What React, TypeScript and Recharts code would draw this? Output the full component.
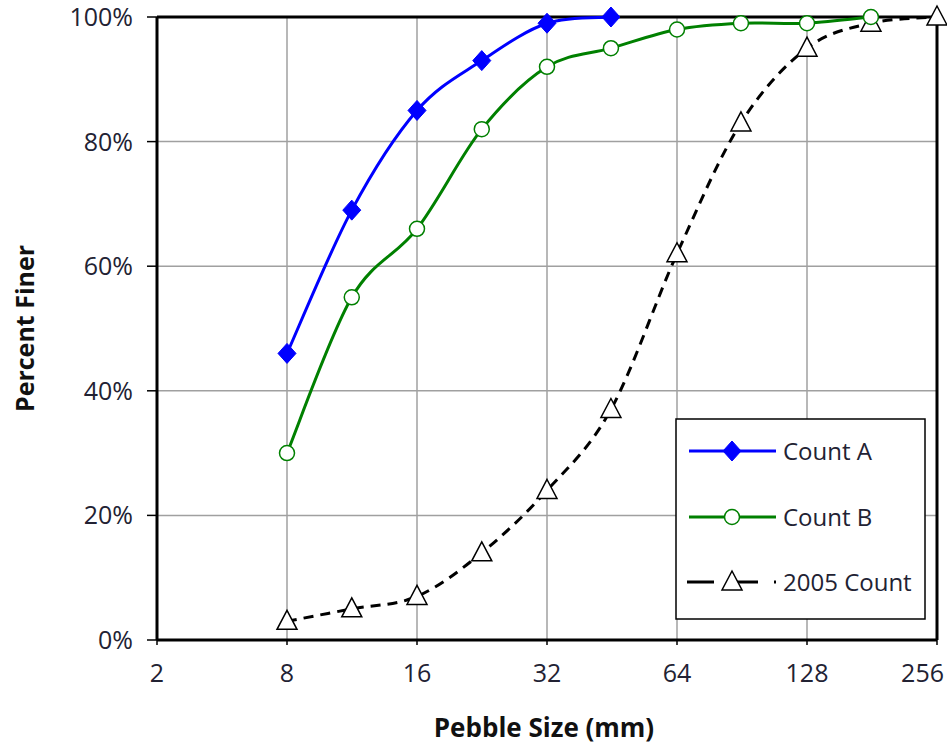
import React from 'react';
import { LineChart, Line, XAxis, YAxis, CartesianGrid, ReferenceLine, Legend } from 'recharts';

const sizes = [8, 11.3, 16, 22.6, 32, 45, 64, 90, 128, 180, 256];
const countA: (number | null)[] = [46, 69, 85, 93, 99, 100, null, null, null, null, null];
const countB: (number | null)[] = [30, 55, 66, 82, 92, 95, 98, 99, 99, 100, null];
const count2005: (number | null)[] = [3, 5, 7, 14, 24, 37, 62, 83, 95, 99, 100];
const xTicks = [4, 8, 16, 32, 64, 128, 256];
const xTickLabels = ['2', '8', '16', '32', '64', '128', '256'];
const yTicks = [0, 20, 40, 60, 80, 100];
const seriesNames = ['Count A', 'Count B', '2005 Count'];

const data = sizes.map((s, i) => ({ size: s, a: countA[i], b: countB[i], c: count2005[i] }));

const FONT = '"Open Sans", "Noto Sans", sans-serif';
const TEXT = '#222233';
const BLUE = '#0000FF';
const GREEN = '#008000';

// Catmull-Rom style smoothing (similar to spreadsheet "smoothed line")
const smoothCurve = (context: any) => {
  let pts: number[][] = [];
  return {
    areaStart() {},
    areaEnd() {},
    lineStart() { pts = []; },
    point(x: number, y: number) { pts.push([+x, +y]); },
    lineEnd() {
      if (!pts.length) return;
      context.moveTo(pts[0][0], pts[0][1]);
      for (let i = 0; i < pts.length - 1; i++) {
        const p0 = pts[i - 1] || pts[i];
        const p1 = pts[i];
        const p2 = pts[i + 1];
        const p3 = pts[i + 2] || p2;
        const c1x = p1[0] + (p2[0] - p0[0]) / 6;
        const c1y = p1[1] + (p2[1] - p0[1]) / 6;
        const c2x = p2[0] - (p3[0] - p1[0]) / 6;
        const c2y = p2[1] - (p3[1] - p1[1]) / 6;
        context.bezierCurveTo(c1x, c1y, c2x, c2y, p2[0], p2[1]);
      }
    },
  };
};

const diamondPts = (cx: number, cy: number) =>
  `${cx},${cy - 10} ${cx + 9},${cy} ${cx},${cy + 10} ${cx - 9},${cy}`;
const trianglePts = (cx: number, cy: number) =>
  `${cx},${cy - 11} ${cx + 10},${cy + 8} ${cx - 10},${cy + 8}`;

const DiamondDot = (p: any) => {
  const { cx, cy, index } = p;
  if (cx == null || cy == null || p.value == null) return <g key={`a${index}`} />;
  return <polygon key={`a${index}`} points={diamondPts(cx, cy)} fill={BLUE} stroke={BLUE} strokeWidth={1} />;
};
const CircleDot = (p: any) => {
  const { cx, cy, index } = p;
  if (cx == null || cy == null || p.value == null) return <g key={`b${index}`} />;
  return <circle key={`b${index}`} cx={cx} cy={cy} r={7.5} fill="#fff" stroke={GREEN} strokeWidth={1.5} />;
};
const TriangleDot = (p: any) => {
  const { cx, cy, index } = p;
  if (cx == null || cy == null || p.value == null) return <g key={`c${index}`} />;
  return <polygon key={`c${index}`} points={trianglePts(cx, cy)} fill="#fff" stroke="#000" strokeWidth={1.5} />;
};

const XTick = (p: any) => {
  const { x, y, payload } = p;
  const i = xTicks.indexOf(payload.value);
  const last = i === xTicks.length - 1;
  return (
    <text x={last ? x + 7 : x} y={y + 37} textAnchor={last ? 'end' : 'middle'} fontFamily={FONT} fontSize={25} fill={TEXT}>
      {i >= 0 ? xTickLabels[i] : payload.value}
    </text>
  );
};
const YTick = (p: any) => {
  const { x, y, payload } = p;
  return (
    <text x={x - 14} y={y + 9} textAnchor="end" fontFamily={FONT} fontSize={25} fill={TEXT}>
      {`${payload.value}%`}
    </text>
  );
};

const YTitle = (p: any) => {
  const vb = p.viewBox || { x: 0, y: 17, width: 157, height: 623 };
  const cx = vb.x + 24;
  const cy = vb.y + vb.height / 2;
  return (
    <text x={cx} y={cy} transform={`rotate(-90, ${cx}, ${cy})`} textAnchor="middle" dominantBaseline="central"
      fontFamily={FONT} fontSize={25} fontWeight="bold" fill="#111">
      Percent Finer
    </text>
  );
};
const XTitle = (p: any) => {
  const vb = p.viewBox || { x: 157, y: 640, width: 780, height: 108 };
  return (
    <text x={vb.x + vb.width / 2 - 3} y={vb.y + 97} textAnchor="middle"
      fontFamily={FONT} fontSize={26} fontWeight="bold" fill="#111">
      Pebble Size (mm)
    </text>
  );
};

const LegendBox = () => {
  const rows = [33, 99, 164];
  return (
    <svg width={252} height={203} style={{ display: 'block' }}>
      <rect x={1} y={1} width={249} height={200} fill="#fff" stroke="#000" strokeWidth={1.5} />
      <line x1={14} x2={101} y1={rows[0]} y2={rows[0]} stroke={BLUE} strokeWidth={3} />
      <polygon points={diamondPts(57, rows[0])} fill={BLUE} stroke={BLUE} />
      <line x1={14} x2={101} y1={rows[1]} y2={rows[1]} stroke={GREEN} strokeWidth={3} />
      <circle cx={57} cy={rows[1]} r={7.5} fill="#fff" stroke={GREEN} strokeWidth={1.5} />
      <line x1={12} x2={101} y1={rows[2]} y2={rows[2]} stroke="#000" strokeWidth={3} strokeDasharray="27 17 27 16 2" />
      <polygon points={trianglePts(57, rows[2])} fill="#fff" stroke="#000" strokeWidth={1.5} />
      {seriesNames.map((n, i) => (
        <text key={n} x={108} y={rows[i] + 9} fontFamily={FONT} fontSize={24} fill={TEXT}>{n}</text>
      ))}
    </svg>
  );
};

export default function App() {
  return (
    <div style={{ position: 'absolute', left: 0, top: 0, width: 947, height: 748, background: '#fff' }}>
      <LineChart width={947} height={748} data={data} margin={{ top: 17, right: 10, left: 0, bottom: 0 }}>
        <CartesianGrid stroke="#a0a0a0" strokeWidth={1.5} />
        <XAxis dataKey="size" type="number" scale="log" domain={[4, 256]} ticks={xTicks}
          height={108} tick={<XTick />} tickSize={5} tickMargin={0}
          axisLine={{ stroke: '#000', strokeWidth: 3 }} tickLine={{ stroke: '#000', strokeWidth: 1.5 }}
          label={<XTitle />} interval={0} />
        <YAxis type="number" domain={[0, 100]} ticks={yTicks} width={157} tick={<YTick />}
          tickSize={10} tickMargin={0} axisLine={{ stroke: '#000', strokeWidth: 3 }}
          tickLine={{ stroke: '#000', strokeWidth: 1.5 }} label={<YTitle />} interval={0} />
        <ReferenceLine y={100} stroke="#000" strokeWidth={3} />
        <ReferenceLine x={256} stroke="#000" strokeWidth={3} />
        <Line dataKey="c" name={seriesNames[2]} type={smoothCurve as any} stroke="#000" strokeWidth={3}
          strokeDasharray="10 7" dot={TriangleDot} activeDot={false} isAnimationActive={false} />
        <Line dataKey="b" name={seriesNames[1]} type={smoothCurve as any} stroke={GREEN} strokeWidth={3}
          dot={CircleDot} activeDot={false} isAnimationActive={false} />
        <Line dataKey="a" name={seriesNames[0]} type={smoothCurve as any} stroke={BLUE} strokeWidth={3}
          dot={DiamondDot} activeDot={false} isAnimationActive={false} />
        <Legend layout="vertical" align="center" verticalAlign="middle" content={<LegendBox />}
          wrapperStyle={{ position: 'absolute', left: 675, top: 418, width: 252, height: 203 }} />
      </LineChart>
    </div>
  );
}
